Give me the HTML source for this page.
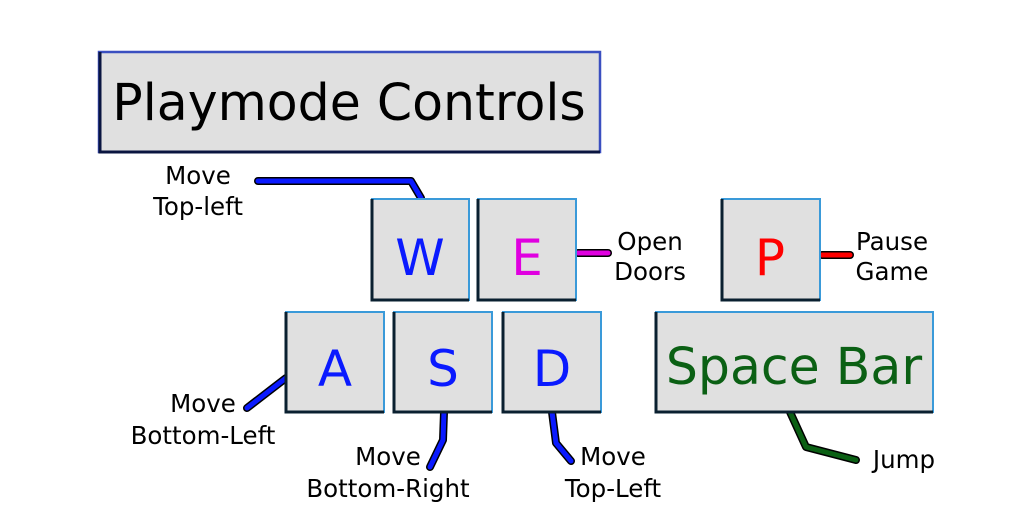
<!DOCTYPE html>
<html><head><style>html,body{margin:0;padding:0;background:#fff;}svg{display:block}</style></head>
<body>
<svg width="1024" height="512" viewBox="0 0 1024 512" xmlns="http://www.w3.org/2000/svg" font-family="DejaVu Sans, sans-serif">
<g fill="none" stroke-linecap="round" stroke-linejoin="round">
<g stroke="#000" stroke-width="8">
<polyline points="258,181 411,181 421,198"/>
<polyline points="286,378 247,408"/>
<polyline points="444,412 443,440 430,467"/>
<polyline points="552,412 556,443 571,461"/>
<polyline points="578,253 608,253"/>
<polyline points="822,255 850,255"/>
<polyline points="790,412 806,447 856,460"/>
</g>
<g stroke-width="5">
<polyline stroke="#0a1aff" points="258,181 411,181 421,198"/>
<polyline stroke="#0a1aff" points="286,378 247,408"/>
<polyline stroke="#0a1aff" points="444,412 443,440 430,467"/>
<polyline stroke="#0a1aff" points="552,412 556,443 571,461"/>
<polyline stroke="#e000e0" points="578,253 608,253"/>
<polyline stroke="#ff0000" points="822,255 850,255"/>
<polyline stroke="#0b6014" points="790,412 806,447 856,460"/>
</g>
</g>
<rect x="99" y="52" width="501" height="100" fill="#e0e0e0" stroke="#3a4fc0" stroke-width="2.5"/>
<polyline points="100,52 100,152 600,152" fill="none" stroke="#0a1540" stroke-width="3"/>
<text x="349" y="120" font-size="50.5" text-anchor="middle" fill="#000">Playmode Controls</text>
<g stroke-width="2">
<rect x="372" y="199" width="97" height="101" fill="#e0e0e0" stroke="#3a9ad9"/>
<rect x="478" y="199" width="98" height="101" fill="#e0e0e0" stroke="#3a9ad9"/>
<rect x="722" y="199" width="98" height="101" fill="#e0e0e0" stroke="#3a9ad9"/>
<rect x="286" y="312" width="98" height="100" fill="#e0e0e0" stroke="#3a9ad9"/>
<rect x="394" y="312" width="98" height="100" fill="#e0e0e0" stroke="#3a9ad9"/>
<rect x="503" y="312" width="98" height="100" fill="#e0e0e0" stroke="#3a9ad9"/>
<rect x="656" y="312" width="277" height="100" fill="#e0e0e0" stroke="#3a9ad9"/>
<g fill="none" stroke="#0a2030" stroke-width="3">
<polyline points="372,199 372,300 469,300"/>
<polyline points="478,199 478,300 576,300"/>
<polyline points="722,199 722,300 820,300"/>
<polyline points="286,312 286,412 384,412"/>
<polyline points="394,312 394,412 492,412"/>
<polyline points="503,312 503,412 601,412"/>
<polyline points="656,312 656,412 933,412"/>
</g>
</g>
<g font-size="50" text-anchor="middle">
<text x="420" y="275" fill="#0a1aff">W</text>
<text x="527" y="275" fill="#e000e0">E</text>
<text x="770" y="275" fill="#ff0000">P</text>
<text x="335" y="386" fill="#0a1aff">A</text>
<text x="443" y="386" fill="#0a1aff">S</text>
<text x="552" y="386" fill="#0a1aff">D</text>
<text x="794" y="384" fill="#0b6014" font-size="50.5">Space Bar</text>
</g>
<g font-size="24.5" fill="#000" text-anchor="middle">
<text x="198" y="184">Move</text><text x="198" y="215">Top-left</text>
<text x="650" y="250">Open</text><text x="650" y="280">Doors</text>
<text x="892" y="250">Pause</text><text x="892" y="280">Game</text>
<text x="203" y="412">Move</text><text x="203" y="444">Bottom-Left</text>
<text x="388" y="465">Move</text><text x="388" y="497">Bottom-Right</text>
<text x="613" y="465">Move</text><text x="613" y="497">Top-Left</text>
<text x="904" y="468">Jump</text>
</g>
</svg>
</body></html>
